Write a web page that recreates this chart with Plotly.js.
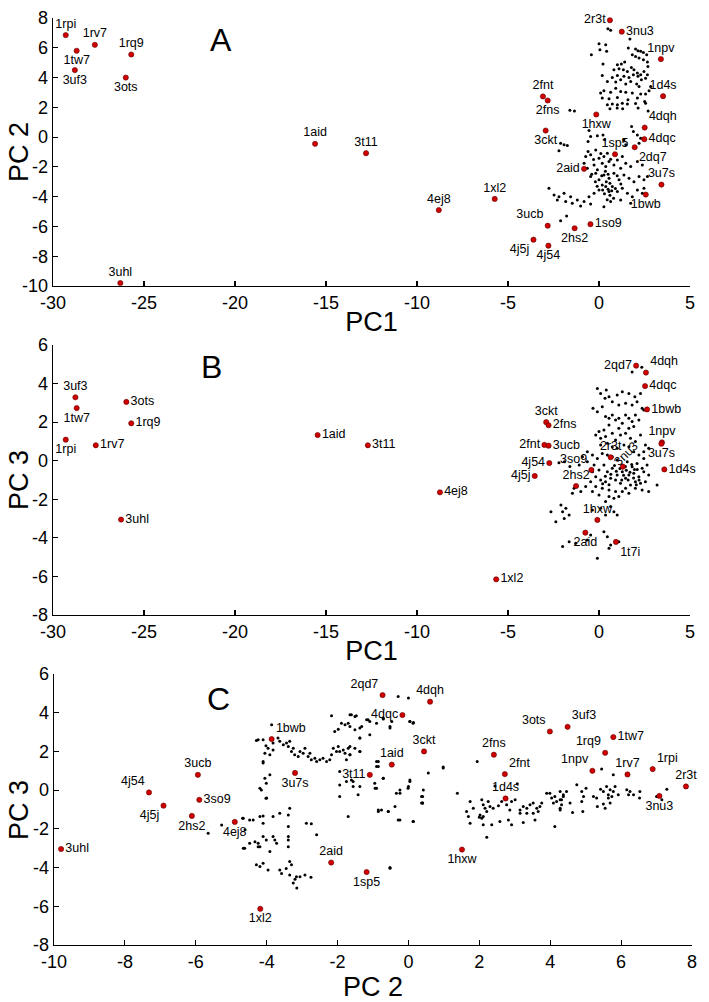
<!DOCTYPE html>
<html>
<head>
<meta charset="utf-8">
<script src="https://cdn.plot.ly/plotly-3.0.1.min.js"></script>
<style>html,body{margin:0;padding:0;background:#fff}#chart{width:709px;height:1002px}</style>
</head>
<body>
<div id="chart"></div>
<script>
// ---------------- Panel A : PC1 vs PC2 ----------------
const labelsA = ["1rpi","1tw7","1rv7","3uf3","1rq9","3ots","3uhl","1aid","3t11","4ej8","1xl2","2fnt","2fns","3ckt","1hxw","2r3t","3nu3","1npv","1d4s","4dqh","4dqc","2dq7","1sp5","2aid","3u7s","1bwb","3ucb","2hs2","1so9","4j5j","4j54"];
const pc1A = [-29.3,-28.7,-27.7,-28.8,-25.7,-26.0,-26.3,-15.6,-12.8,-8.8,-5.73,-3.08,-2.82,-2.93,-0.15,0.6,1.25,3.4,3.52,2.51,2.49,1.96,0.88,-0.82,3.43,2.57,-2.82,-1.34,-0.47,-3.6,-2.78];
const pc2A = [6.85,5.8,6.2,4.5,5.55,4.0,-9.8,-0.45,-1.08,-4.9,-4.15,2.73,2.46,0.44,1.52,7.85,7.08,5.24,2.75,0.64,-0.14,-0.68,-1.15,-2.13,-3.19,-3.86,-5.95,-6.12,-5.85,-6.89,-7.29];
const posA = ["top center","bottom center","top center","bottom center","top center","bottom center","top center","top center","top center","top center","top center","top center","bottom center","bottom center","bottom center","middle left","middle right","top center","top center","top right","middle right","bottom right","top center","middle left","top center","bottom center","top left","bottom center","middle right","bottom left","bottom center"];
const otherA = [
[0.49,7.28],[0.64,7.17],[1.70,6.59],[0.00,6.27],[0.37,6.21],[0.05,5.87],[0.42,5.76],[-0.42,5.53],[1.61,5.98],[2.01,5.91],[2.14,5.80],[2.29,5.76],[2.44,5.69],[2.62,5.53],[1.83,5.53],[2.01,5.42],[2.20,5.31],[2.44,5.20],[2.66,5.04],[2.69,4.75],[0.22,4.91],[1.01,4.86],[1.23,4.91],[1.41,5.04],[0.82,4.52],[1.10,4.59],[1.34,4.52],[1.56,4.41],[1.78,4.68],[1.92,4.52],[2.11,4.30],[2.29,4.19],[2.47,4.41],[2.66,4.19],[0.18,4.14],[0.73,4.01],[1.01,4.14],[1.37,4.08],[1.65,4.01],[1.89,4.19],[2.14,4.08],[2.33,3.85],[2.56,3.96],[0.46,3.74],[0.92,3.70],[1.19,3.85],[1.47,3.56],[1.74,3.74],[2.07,3.56],[2.20,3.40],[2.84,3.40],[0.09,2.96],[0.27,3.11],[0.64,3.02],[0.92,3.29],[1.19,3.07],[1.47,3.02],[1.83,2.96],[2.29,2.89],[2.56,2.89],[2.75,3.11],[0.18,2.62],[0.55,2.57],[1.01,2.66],[1.59,2.51],[2.11,2.62],[2.51,2.39],[0.46,2.17],[0.73,2.22],[1.01,2.17],[1.28,2.28],[1.56,2.22],[2.01,2.26],[2.56,2.28],[2.7,1.75],[2.15,1.95],[1.0,1.95],[0.6,1.9],[1.3,1.9],[-1.6,1.8],[-1.35,1.75],
[-0.55,0.44],[-0.46,0.04],[-0.60,-0.30],[-0.09,0.09],[0.22,0.15],[0.31,-0.18],[1.79,0.71],[1.89,0.38],[2.11,0.15],[2.29,-0.07],[2.20,-0.41],[1.37,-0.18],[1.47,-0.52],[-2.11,-0.41],[-1.92,-0.52],[-1.74,-0.57],[-2.20,-0.92],[-0.60,-0.97],[-0.73,-1.30],[-0.46,-1.19],[-0.18,-0.86],[0,-1.42],[0.27,-1.30],[0.46,-1.08],[0.64,-1.48],[1.01,-1.53],[1.28,-1.30],[-0.82,-1.75],[-0.64,-2.09],[-0.27,-1.87],[-0.09,-2.20],[0.18,-1.75],[0.37,-1.98],[0.55,-1.64],[0.82,-1.87],[1.19,-2.09],[1.47,-1.75],[1.74,-1.98],[2.11,-1.64],[2.38,-1.87],[-0.46,-2.65],[-0.18,-2.43],[0,-2.87],[0.27,-2.54],[0.55,-2.76],[0.82,-2.43],[1.10,-2.87],[1.37,-2.54],[1.65,-2.76],[1.92,-2.99],[2.20,-2.65],[2.47,-2.87],[2.66,-2.65],[-2.75,-3.43],[-2.47,-3.88],[-2.20,-4.00],[-1.92,-3.77],[-1.56,-4.00],[-1.19,-4.22],[-0.82,-4.33],[-0.55,-4.00],[-0.27,-3.77],[0,-3.55],[0.18,-3.21],[0.37,-3.32],[0.55,-3.66],[0.73,-3.32],[1.01,-3.66],[1.28,-3.43],[1.56,-3.77],[1.83,-4.00],[2.11,-3.55],[2.38,-3.77],[2.47,-3.43],[-2.29,-4.22],[-1.83,-4.33],[-1.47,-4.44],[-1.01,-4.62],[-0.46,-4.49],[0.27,-4.67],[0.64,-4.33],[1.19,-4.22],[1.74,-4.44],[-2.11,-5.61],[-1.78,-5.30],
[0.4,-3.0],[0.6,-3.1],[0.5,-3.5],[0.7,-3.6],[0.3,-3.8],[0.6,-3.9],[0.8,-4.1],[0.45,-4.2],[0.2,-3.55],[0.9,-3.45],[0.35,-2.3],[0.15,-2.6],[0.5,-2.5],[-0.2,-3.0],[-0.1,-3.3],[1.2,-3.15],[1.0,-2.6],[-0.3,-1.5],[0.1,-1.1],[-0.4,-2.5]
];

// ---------------- Panel B : PC1 vs PC3 ----------------
const labelsB = ["3uf3","1tw7","1rpi","1rv7","3ots","1rq9","3uhl","1aid","3t11","4ej8","1xl2","3ckt","2fns","2fnt","3ucb","4j54","4j5j","3so9","2hs2","2r3t","3nu3","1hxw","2aid","1t7i","2qd7","4dqh","4dqc","1bwb","1npv","3u7s","1d4s"];
const pc1B = [-28.77,-28.7,-29.3,-27.65,-25.97,-25.7,-26.26,-15.46,-12.7,-8.74,-5.65,-2.9,-2.77,-3.0,-2.77,-2.73,-3.53,-0.42,-1.26,0.64,1.31,-0.09,-0.75,0.93,2.04,2.58,2.53,2.64,3.46,3.43,3.59];
const pc3B = [3.29,2.73,1.09,0.8,3.05,1.94,-3.05,1.33,0.8,-1.64,-6.15,2.0,1.84,0.82,0.78,-0.12,-0.79,-0.48,-1.31,0.18,-0.31,-3.07,-3.73,-4.21,4.93,4.57,3.87,2.66,0.95,0.88,-0.45];
const posB = ["top center","bottom center","bottom center","middle right","middle right","middle right","middle right","middle right","middle right","middle right","middle right","top center","middle right","middle left","middle right","middle left","middle left","top left","top center","top center","rotated","top center","bottom center","bottom right","middle left","top right","middle right","middle right","top center","bottom center","middle right"];
const otherB = [
[-0.09,3.75],[0.09,3.49],[0.40,3.67],[0.55,3.32],[0.33,3.24],[0.73,3.06],[1.0,3.41],[1.28,3.58],[1.64,3.49],[1.97,3.32],[2.09,3.06],[2.28,3.49],[2.37,2.72],[1.82,2.89],[1.46,2.98],[1.09,2.89],[-0.33,2.72],[-0.09,2.54],[0.18,2.80],[0.36,2.29],[0.55,2.20],[0.73,2.37],[0.91,2.11],[1.09,2.20],[1.28,1.94],[1.46,2.37],[1.64,2.20],[1.82,2.03],[2.0,2.37],[2.19,2.11],[2.46,2.63],[1.64,1.68],[1.91,1.77],[1.09,1.68],[0.55,1.85],[0.27,1.59],[0,1.51],[-0.18,1.33],[0.09,1.16],[0.36,1.25],[0.73,1.42],[0.91,1.08],[1.18,1.33],[1.46,1.42],[1.73,1.16],[2.0,0.99],[2.28,1.33],[2.55,0.82],[2.73,0.64],[2.46,0.47],[0.46,0.90],[0.09,0.82],[0.73,0.73],[1.0,0.64],[1.37,0.82],[1.64,0.73],[1.91,0.47],[2.19,0.30],[2.46,0.12],[2.64,-0.22],[2.37,-0.39],[2.09,-0.14],[1.82,-0.31],[1.55,-0.05],[1.28,-0.22],[1.0,0.04],[0.73,0.21],[0.46,0.30],[0.18,0.38],[-0.09,0.12],[-0.36,0.30],[-0.64,0.47],[-0.91,0.21],[-1.09,-0.22],[-0.64,-0.05],[-0.27,-0.22],[0,-0.48],[0.27,-0.22],[0.46,-0.57],[0.73,-0.39],[1.0,-0.74],[1.28,-0.57],[1.46,-0.91],[1.64,-0.74],[1.91,-0.65],[2.19,-0.83],[2.46,-0.57],[2.73,-0.74],[2.55,-1.09],[2.28,-1.17],[2.0,-1.09],[1.73,-1.26],[1.46,-1.43],[1.18,-1.17],[0.91,-1.0],[0.64,-0.91],[0.36,-1.09],[0.09,-1.0],[-0.18,-0.83],[-0.36,-0.57],[-0.46,-1.09],[-0.18,-1.34],[0.18,-1.43],[0.55,-1.52],[0.91,-1.60],[1.28,-1.60],[1.64,-1.69],[2.0,-1.43],[2.37,-1.52],[2.73,-1.60],[3.19,-1.26],[0.55,-1.86],[0.82,-1.95],[1.09,-1.86],[0.36,-2.12],[0,-1.78],[-0.36,-1.60],[-0.73,-1.34],[-1.37,-1.43],[-1.46,-1.69],[-1.0,-1.60],
[-2.09,-2.29],[-1.82,-2.47],[-2.0,-2.64],[-1.91,-2.99],[-1.64,-2.81],[-2.64,-2.64],[-2.37,-3.16],[-0.36,-2.55],[0.09,-2.47],[0.64,-2.38],[0.82,-2.64],[1.0,-2.81],[0.36,-2.81],[-2.0,-4.45],[-1.64,-4.2],[-1.28,-4.28],[-0.64,-4.11],[-0.46,-3.85],[0.27,-3.68],[0.46,-3.94],[0.64,-4.37],[0.55,-4.54],[1.09,-4.2],[-0.09,-5.06],
[-2.2,-0.1],[-1.9,-0.05],[-1.6,-0.3],[1.82,4.6],[2.35,4.85],
[1.5,-0.5],[1.7,-0.6],[1.9,-0.9],[2.1,-0.45],[1.6,-1.0],[1.35,-0.75],[1.8,-0.2],[2.2,-1.0],[1.45,-0.3],[1.95,-0.45],[2.05,-1.25],[1.25,-1.0],[1.15,-0.4],[0.85,-0.25],[0.95,-0.55],[0.65,-0.7],[0.55,-1.25],[0.35,-0.8],[0.2,-1.2]
];

// ---------------- Panel C : PC2 vs PC3 ----------------
const labelsC = ["3uhl","4j54","4j5j","3ucb","3so9","2hs2","4ej8","1xl2","1bwb","3u7s","2aid","2qd7","4dqc","1aid","3t11","1sp5","4dqh","3ckt","2fns","2fnt","1d4s","1hxw","3ots","3uf3","1tw7","1rq9","1npv","1rv7","1rpi","2r3t","3nu3"];
const pc2C = [-9.8,-7.32,-6.91,-5.94,-5.9,-6.11,-4.9,-4.18,-3.86,-3.2,-2.18,-0.73,-0.17,-0.47,-1.09,-1.18,0.61,0.44,2.41,2.72,2.74,1.51,3.99,4.49,5.78,5.55,5.19,6.18,6.89,7.83,7.08];
const pc3C = [-3.04,-0.12,-0.8,0.79,-0.5,-1.33,-1.64,-6.13,2.64,0.89,-3.74,4.91,3.88,1.32,0.79,-4.23,4.57,2.0,1.83,0.83,-0.43,-3.07,3.03,3.27,2.74,1.93,1.0,0.81,1.09,0.19,-0.3];
const posC = ["middle right","top left","bottom left","top center","middle right","bottom center","bottom center","bottom center","top right","bottom center","top center","top left","middle left","top center","middle left","bottom center","top center","top center","top center","top right","top center","bottom center","top left","top right","middle right","top left","top left","top center","top right","top center","bottom center"];
const otherC = [
[-3.86,3.38],[-4.29,2.57],[-4.10,2.60],[-4.02,2.29],[-3.96,2.17],[-3.82,2.43],[-3.82,2.08],[-3.68,2.69],[-3.63,2.52],[-3.53,2.34],[-3.44,2.43],[-3.39,2.26],[-3.35,2.52],[-3.30,2.0],[-3.25,2.17],[-3.21,1.83],[-3.11,1.74],[-3.06,2.0],[-2.97,1.91],[-2.92,2.17],[-2.83,1.74],[-2.78,1.91],[-2.74,1.57],[-2.64,1.65],[-2.59,1.48],[-2.50,1.57],[-2.41,1.65],[-2.31,1.48],[-2.22,1.57],[-2.17,1.83],[-2.12,2.17],[-2.03,2.0],[-1.98,2.26],[-1.94,2.0],[-1.84,2.08],[-1.79,1.91],[-1.75,1.57],[-1.70,2.17],[-1.65,1.83],[-1.51,2.17],[-1.37,2.0],[-1.37,2.69],[-1.32,3.29],[-1.79,3.38],[-1.70,3.46],[-1.61,3.90],[-1.47,3.84],[-1.51,3.12],[-1.89,3.46],[-1.98,3.15],[-2.08,3.03],[-2.17,3.84],[-1.14,3.64],[-0.90,3.46],[-0.71,3.67],[-0.52,3.29],[0.04,3.55],[0.13,3.46],
[-4.10,1.48],[-3.91,1.83],[-4.05,0.62],[-4.01,0.36],[-3.91,0.79],[-4.15,0.01],[-4.02,-0.42],[-4.19,0.10],[-1.94,0.96],[-1.94,0.27],[-1.75,0.45],[-1.61,0.53],[-1.56,0.19],[-1.42,-0.24],[-1.94,-0.33],[-1.70,-1.36],[-0.90,1.48],[-0.85,1.22],[-0.71,0.62],[-0.90,0.10],[-0.95,0.36],[-0.34,-0.16],[-0.24,0.01],[-0.38,-0.85],[0.04,0.53],[-0.01,0.10],[0.37,-0.67],[-0.76,-1.02],[-0.85,-1.10],[-0.57,-1.10],[-0.24,-1.54],[0.13,-1.62],[0.42,0.01],
[-4.66,-1.45],[-4.48,-1.54],[-4.19,-1.36],[-4.10,-1.33],[-4.10,-1.71],[-3.82,-1.36],[-3.63,-1.19],[-3.39,-1.28],[-3.35,-0.93],[-2.88,-1.71],[-2.74,-1.74],[-2.59,-2.31],[-3.39,-1.88],[-3.39,-2.40],[-3.39,-2.57],[-3.39,-2.92],[-3.82,-2.40],[-3.77,-2.57],[-4.10,-2.40],[-4.01,-2.57],[-4.24,-2.74],[-4.19,-2.92],[-4.48,-2.74],[-4.33,-2.66],[-4.66,-3.0],[-3.91,-3.17],[-3.72,-2.74],[-4.10,-3.78],[-4.19,-3.95],[-4.29,-3.86],[-3.96,-4.12],[-3.63,-4.12],[-3.58,-4.30],[-3.35,-3.69],[-3.30,-3.86],[-3.35,-4.38],[-3.16,-4.47],[-3.06,-4.47],[-2.92,-4.38],[-0.52,-4.04],
[-3.2,-4.6],[-3.25,-4.8],[-3.15,-5.05],[-2.75,-4.5],[-3.45,-4.05],[-4.61,-2.05],[-5.65,-2.23],[-5.27,-1.8],[-4.68,-1.45],[-4.38,-1.54],[-4.62,-3.0],[-4.24,-2.92],[-4.24,2.6],[-4.05,1.91],[-4.1,1.4],[-4.0,-0.41],
[-0.29,4.84],[0.0,4.76],[-1.65,3.9],[-1.51,3.81],[-1.18,3.64],[-1.09,3.55],[-0.71,3.72],[-0.47,3.55],[0.04,3.55],[0.14,3.5],[-0.52,3.21],[-1.37,3.21],[-1.65,3.29],[-1.37,2.69],[-1.65,2.26],[-1.37,2.0],[-1.65,1.83],[-1.09,2.86],[0.98,1.19],[0.56,0.88],[-0.85,1.48],[-0.9,1.22],[-0.71,0.62],[-0.94,0.1],[-1.37,0.19],[-1.56,0.45],[-0.24,-0.16],[0.0,0.19],[0.04,0.45],[0.37,-0.33],[0.4,-0.67],[-0.85,-1.02],[-0.57,-1.1],[-0.29,-1.54],[0.14,-1.62],[-0.52,-4.0],
[0.98,1.14],[0.40,-0.33],[0.40,-0.67],[1.94,1.48],[1.38,-0.16],[2.44,0.22],[3.07,0.33],[1.74,-0.59],[1.83,-0.93],[1.64,-1.10],[1.69,-1.36],[1.74,-1.71],[2.07,-0.50],[2.11,-0.76],[2.16,-0.93],[2.25,-0.59],[2.30,-0.85],[2.39,-0.93],[2.02,-1.28],[2.07,-1.45],[2.11,-1.36],[2.0,-1.40],[2.21,-1.10],[2.11,-1.79],[2.54,-0.81],[2.63,-0.59],[2.77,-0.76],[2.91,-0.59],[3.01,-0.50],[2.86,-1.02],[3.15,-1.02],[3.24,-0.85],[3.34,-0.93],[3.43,-0.76],[3.52,-0.67],[3.62,-0.93],[3.71,-0.85],[3.76,-0.67],[3.66,-1.10],[3.52,-1.19],[3.34,-1.19],[3.15,-1.19],[2.82,-1.54],[2.58,-1.62],[2.35,-1.79],[2.91,-1.79],[3.24,-1.67],[3.57,-1.54],[3.90,-0.16],[3.99,-0.16],[4.04,-0.41],[4.13,-0.33],[4.18,-0.59],[4.09,-0.67],[4.28,-0.50],[4.37,-0.33],[4.32,-0.76],[4.46,-0.07],[4.28,-1.02],[4.13,-1.88],[2.21,-2.43],
[4.37,-0.24],[4.32,-0.5],[4.28,-0.93],[4.56,-0.67],[4.63,-1.16],[4.75,0.28],[4.89,-0.07],[5.01,0.1],[4.94,-0.33],[4.89,-0.59],[4.92,-1.1],[5.22,-0.33],[5.31,-0.41],[5.45,1.09],[5.42,0.05],[5.50,-0.07],[5.59,0.19],[5.69,0.02],[5.64,-0.24],[5.74,-0.33],[5.78,-0.07],[5.83,0.19],[5.50,-0.71],[5.55,-0.93],[5.69,-0.67],[5.64,-0.41],[5.33,-0.85],[5.92,-0.24],[6.16,0.02],[6.25,-0.07],[6.21,-0.24],[6.35,-0.24],[6.53,-0.07],[6.52,-0.41],[5.78,0.79],[7.29,0.05],[7.0,-0.33],[7.15,-0.5],[4.28,-0.07]
];

// axis ticks
const ticksPC1 = [-30,-25,-20,-15,-10,-5,0,5];
const ticksPC1Text = ["-30","-25","-20","-15","-10","-5","0","5"];
const ticksPC2A = [-10,-8,-6,-4,-2,0,2,4,6,8];
const ticksPC2AText = ["-10","-8","-6","-4","-2","0","2","4","6","8"];
const ticksPC3 = [-8,-6,-4,-2,0,2,4,6];
const ticksPC3Text = ["-8","-6","-4","-2","0","2","4","6"];
const ticksPC2C = [-10,-8,-6,-4,-2,0,2,4,6,8];
const ticksPC2CText = ["-10","-8","-6","-4","-2","0","2","4","6","8"];

// ---------------- build ----------------
const FONT = "Liberation Sans, Arial, sans-serif";
const W = 709, H = 1002;
const px = v => v / W;
const py = v => 1 - v / H;

function dots(pairs, xa, ya) {
  return {x: pairs.map(p => p[0]), y: pairs.map(p => p[1]), xaxis: xa, yaxis: ya,
    type: "scatter", mode: "markers", hoverinfo: "skip", showlegend: false,
    marker: {size: 3, color: "#000"}};
}
function named(xs, ys, labels, pos, xa, ya) {
  return {x: xs, y: ys, text: labels.map((t, i) => pos[i] === "rotated" ? "" : t),
    textposition: pos.map(p => p === "rotated" ? "top center" : p),
    xaxis: xa, yaxis: ya, type: "scatter", mode: "markers+text", showlegend: false,
    cliponaxis: false, hoverinfo: "text",
    textfont: {family: FONT, size: 12.5, color: "#000"},
    marker: {size: 5.2, color: "#d00000", line: {color: "#600000", width: 0.6}}};
}

const data = [
  dots(otherA, "x", "y"),
  named(pc1A, pc2A, labelsA, posA, "x", "y"),
  dots(otherB, "x2", "y2"),
  named(pc1B, pc3B, labelsB, posB, "x2", "y2"),
  dots(otherC, "x3", "y3"),
  named(pc2C, pc3C, labelsC, posC, "x3", "y3")
];

function axis(extra) {
  return Object.assign({
    showline: true, linecolor: "#000", linewidth: 1.3, ticks: "inside", ticklen: 5,
    tickwidth: 1.2, tickcolor: "#000", showgrid: false, zeroline: false, mirror: false,
    tickfont: {family: FONT, size: 18, color: "#000"}, fixedrange: true
  }, extra);
}

const TF = {size: 27, family: FONT, color: "#000"};
const LF = {size: 32, family: FONT, color: "#000"};
const rotIdx = posB.indexOf("rotated");
function paperNote(text, x, y, font, angle) {
  return {text: text, xref: "paper", yref: "paper", x: px(x), y: py(y), xanchor: "center", yanchor: "middle",
    textangle: angle || 0, showarrow: false, font: font};
}
const layout = {
  width: W, height: H, paper_bgcolor: "#fff", plot_bgcolor: "rgba(0,0,0,0)",
  margin: {l: 0, r: 0, t: 0, b: 0}, showlegend: false,
  font: {family: FONT, color: "#000"},
  xaxis: axis({domain: [px(53), px(690)], range: [-30, 5], anchor: "y",
    tickvals: ticksPC1, ticktext: ticksPC1Text,
    title: {text: "PC1", font: TF, standoff: 0}}),
  yaxis: axis({domain: [py(286), py(18)], range: [-10, 8], anchor: "x",
    tickvals: ticksPC2A, ticktext: ticksPC2AText}),
  xaxis2: axis({domain: [px(53), px(690)], range: [-30, 5], anchor: "y2",
    tickvals: ticksPC1, ticktext: ticksPC1Text,
    title: {text: "PC1", font: TF, standoff: 0}}),
  yaxis2: axis({domain: [py(615), py(345)], range: [-8, 6], anchor: "x2",
    tickvals: ticksPC3, ticktext: ticksPC3Text}),
  xaxis3: axis({domain: [px(54), px(692)], range: [-10, 8], anchor: "y3",
    tickvals: ticksPC2C, ticktext: ticksPC2CText,
    title: {text: "PC 2", font: TF, standoff: 2}}),
  yaxis3: axis({domain: [py(945), py(674)], range: [-8, 6], anchor: "x3",
    tickvals: ticksPC3, ticktext: ticksPC3Text}),
  annotations: [
    paperNote("PC 2", 19, 152, TF, -90),
    paperNote("PC 3", 19, 480, TF, -90),
    paperNote("PC 3", 19, 810, TF, -90),
    paperNote("A", 221, 40, LF),
    paperNote("B", 212, 367, LF),
    paperNote("C", 218, 699, LF),
    {text: labelsB[rotIdx], xref: "x2", yref: "y2", x: pc1B[rotIdx], y: pc3B[rotIdx], showarrow: false,
     xanchor: "center", yanchor: "middle",
     textangle: -45, xshift: 3, yshift: 13, font: {size: 12.5, family: FONT, color: "#000"}}
  ]
};

Plotly.newPlot("chart", data, layout, {staticPlot: true, displayModeBar: false});
</script>
</body>
</html>
